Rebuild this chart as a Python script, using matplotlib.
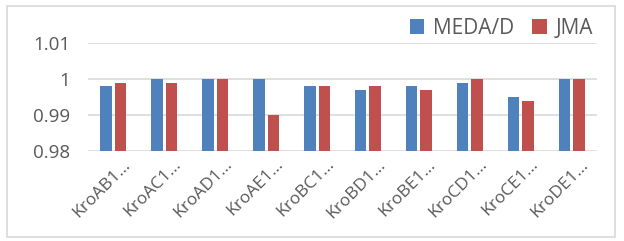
import matplotlib.pyplot as plt
import matplotlib.transforms as mtransforms
import numpy as np
from matplotlib.patches import Rectangle

categories = ["KroAB1…", "KroAC1…", "KroAD1…", "KroAE1…", "KroBC1…",
              "KroBD1…", "KroBE1…", "KroCD1…", "KroCE1…", "KroDE1…"]
meda_d = [0.998, 1.0, 1.0, 1.0, 0.998, 0.997, 0.998, 0.999, 0.995, 1.0]
jma = [0.999, 0.999, 1.0, 0.990, 0.998, 0.998, 0.997, 1.0, 0.994, 1.0]
yticks = [0.98, 0.99, 1.0, 1.01]
yticklabels = ["0.98", "0.99", "1", "1.01"]

plt.rcParams["font.family"] = ["Open Sans", "DejaVu Sans"]
text_color = "#595959"

fig = plt.figure(figsize=(6.24, 2.41), dpi=100)
fig.patches.append(Rectangle((7 / 624, 4 / 241), 608 / 624, 231 / 241,
                             transform=fig.transFigure, fill=False,
                             edgecolor="#D9D9D9", linewidth=1.2))
ax = fig.add_axes([88 / 624, 1 - 151 / 241, 509 / 624, 108 / 241])

x = np.arange(len(categories))
w = 0.226
bottom = 0.98
ax.bar(x - 0.143, np.array(meda_d) - bottom, w, bottom=bottom,
       color="#4F81BD", label="MEDA/D", zorder=3)
ax.bar(x + 0.143, np.array(jma) - bottom, w, bottom=bottom,
       color="#C0504D", label="JMA", zorder=3)

ax.set_xlim(-0.5, len(categories) - 0.5)
ax.set_ylim(0.98, 1.01)
ax.set_yticks(yticks)
ax.set_yticklabels(yticklabels)
ax.yaxis.grid(True, color="#D9D9D9", linewidth=1.2, zorder=0)
for s in ax.spines.values():
    s.set_visible(False)
ax.tick_params(axis="both", length=0, colors=text_color)
ax.tick_params(axis="y", pad=13, labelsize=13.5)

ax.set_xticks(x)
ax.set_xticklabels(categories, rotation=45, ha="right",
                   rotation_mode="anchor", fontsize=12.5)
ax.tick_params(axis="x", pad=4)
shift = mtransforms.ScaledTranslation(9 / 100, 0, fig.dpi_scale_trans)
for lbl in ax.get_xticklabels():
    lbl.set_transform(lbl.get_transform() + shift)

leg = ax.legend(loc="lower right", bbox_to_anchor=(1.0, 1.0), ncol=2,
                frameon=False, fontsize=15, handlelength=0.7,
                handleheight=0.7, handletextpad=0.4, columnspacing=0.9,
                borderaxespad=0.0, borderpad=0.2)
for t in leg.get_texts():
    t.set_color(text_color)

fig.savefig("out.png", dpi=100, facecolor="white")
